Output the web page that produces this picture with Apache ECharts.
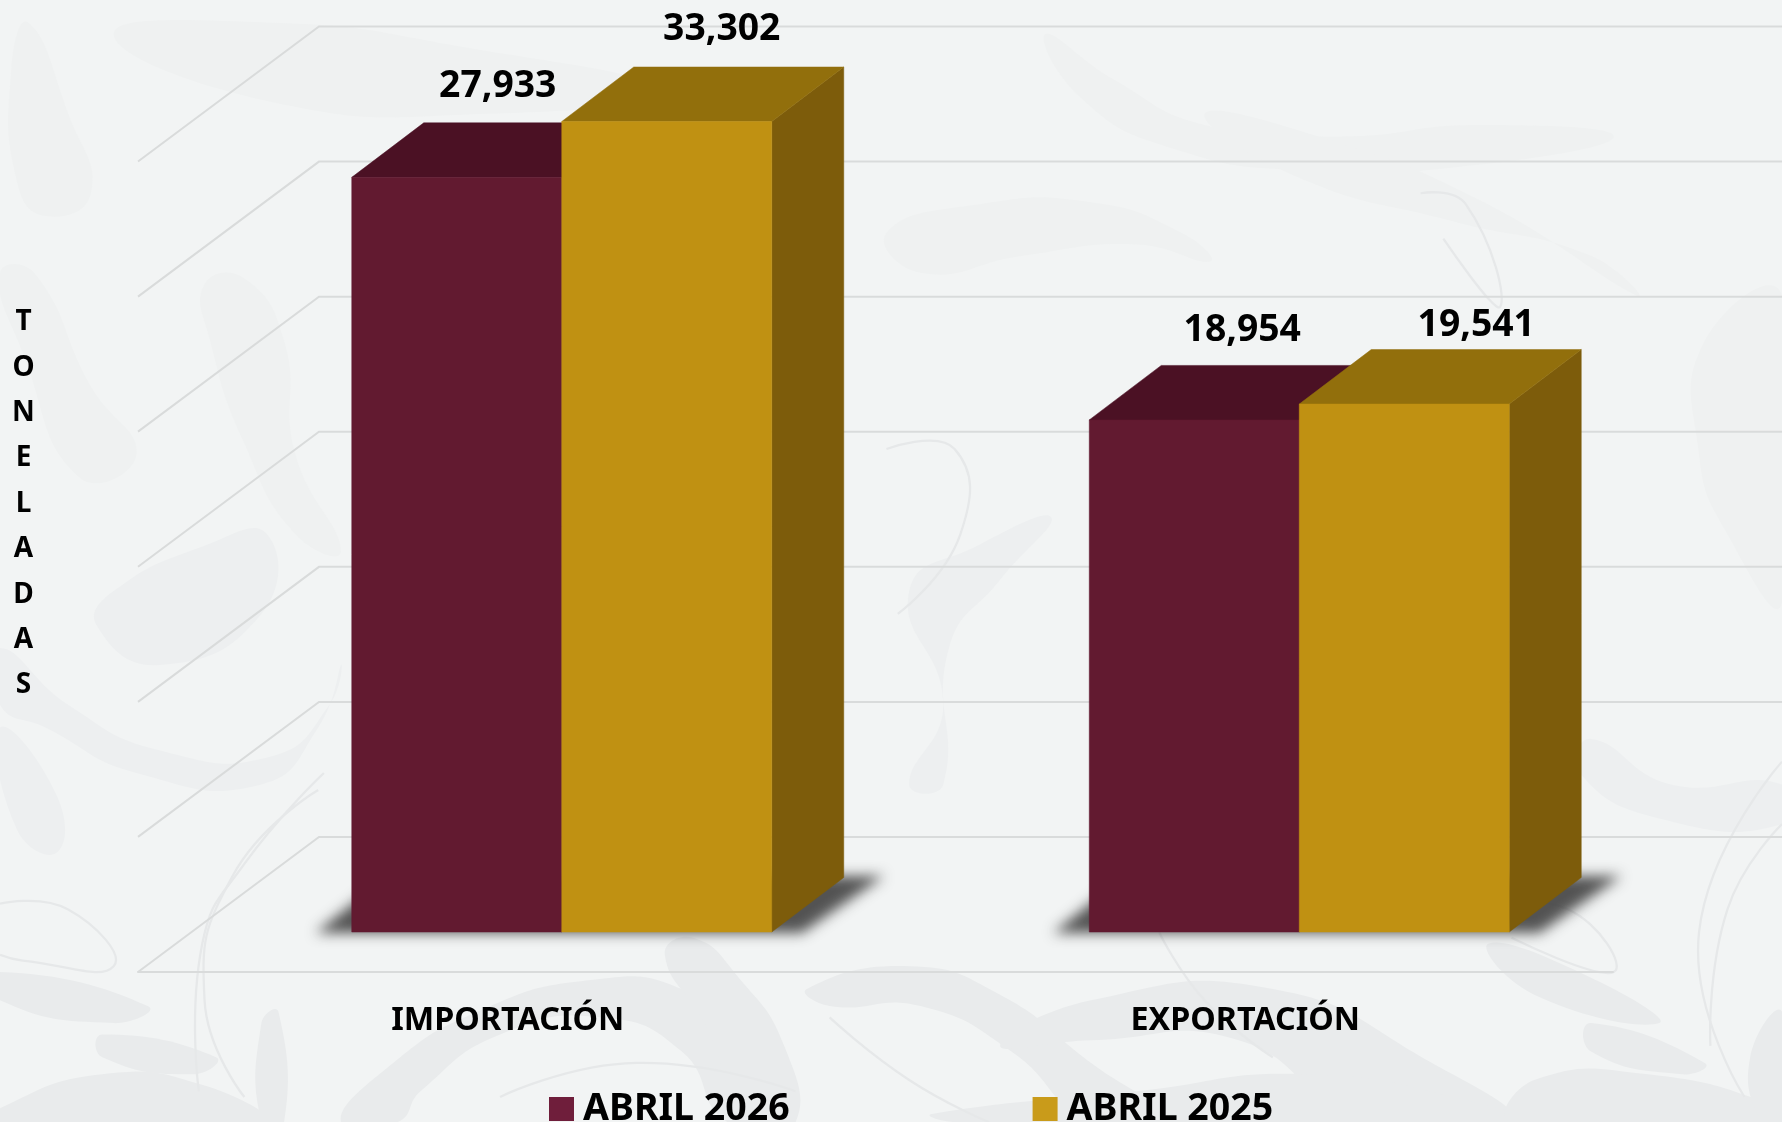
<!DOCTYPE html>
<html>
<head>
<meta charset="utf-8">
<style>html,body{margin:0;padding:0;background:#f2f4f4;overflow:hidden}#c{width:1782px;height:1122px}</style>
<script src="https://cdn.jsdelivr.net/npm/echarts@6/dist/echarts.min.js"></script>
</head>
<body>
<div id="c"></div>
<script>
const categories = ['IMPORTACIÓN', 'EXPORTACIÓN'];
const abril2026 = [27933, 18954];
const abril2025 = [33302, 19541];
const seriesNames = ['ABRIL 2026', 'ABRIL 2025'];
const wallTicks = [0, 5000, 10000, 15000, 20000, 25000, 30000];
const axisMax = 30000;

const FONT = '"Noto Sans", "Open Sans", sans-serif';
const palette = [
  {legend: '#6f1e3b', front: '#621a30', top: '#4b1124', side: '#4b1124'},
  {legend: '#c99b1a', front: '#c09112', top: '#926f0c', side: '#7d5c0b'}
];
const WALL = [181, -135];
const BAR_OFF = [55, -40];
const BAR_DEPTH = [72, -54.5];
const BAR_W = 210;
const LABEL_NUDGE = [[[41, -36.7], [48, -34.9]], [[55, -37.7], [72, -24]]];

function fmt(v) { return String(v).replace(/\B(?=(\d{3})+$)/g, ','); }

function barItem(k) {
  return function (params, api) {
    const i = api.value(0), v = api.value(1);
    const cx = api.coord([i, 0])[0];
    const y0 = api.coord([i, 0])[1] + BAR_OFF[1];
    const y1 = api.coord([i, Math.min(v, axisMax)])[1] + BAR_OFF[1];
    const x0 = cx + BAR_OFF[0] - BAR_W + k * BAR_W, x1 = x0 + BAR_W;
    const dx = BAR_DEPTH[0], dy = BAR_DEPTH[1], c = palette[k];
    const n = LABEL_NUDGE[k][i];
    const poly = (pts, col) => ({type: 'polygon', shape: {points: pts}, style: {fill: col, stroke: col, lineWidth: 0.5}});
    return {type: 'group', children: [
      poly([[x1, y1], [x1 + dx, y1 + dy], [x1 + dx, y0 + dy], [x1, y0]], c.side),
      poly([[x0, y1], [x0 + dx, y1 + dy], [x1 + dx, y1 + dy], [x1, y1]], c.top),
      poly([[x0, y1], [x1, y1], [x1, y0], [x0, y0]], c.front),
      {type: 'text', style: {text: fmt(v), x: (x0 + x1) / 2 + n[0], y: y1 + dy + n[1], align: 'center', verticalAlign: 'middle',
        fontFamily: FONT, fontWeight: 'bold', fontSize: 37.3, fill: '#000'}}
    ]};
  };
}

function shadowItem(params, api) {
  const i = api.value(0);
  const cx = api.coord([i, 0])[0];
  const yb = api.coord([i, 0])[1] + BAR_OFF[1];
  const xl = cx + BAR_OFF[0] - BAR_W, xr = cx + BAR_OFF[0] + BAR_W;
  const far = 3000;
  return {type: 'polygon',
    shape: {points: [[xl - 36, yb + 1], [xl + 36, yb - 56], [xr + 112, yb - 56], [xr + 30, yb + 1]].map(p => [p[0] - far, p[1]])},
    style: {fill: '#000', shadowBlur: 13, shadowOffsetX: far, shadowColor: 'rgba(65,65,65,0.9)'}};
}

function wallItem(params, api) {
  const t = api.value(0);
  const y = api.coord([0, t])[1], xl = params.coordSys.x, xr = xl + params.coordSys.width;
  return {type: 'polyline',
    shape: {points: [[xl, y], [xl + WALL[0], y + WALL[1]], [xr + WALL[0], y + WALL[1]]]},
    style: {stroke: '#d9dbdb', lineWidth: 2, fill: 'none'}};
}

// decorative background flourish (page 1568-space)
const blobs = [
  [[300,987],[340,940],[420,890],[520,862],[600,870],[660,920],[700,987],[640,987],[600,925],[530,895],[440,910],[370,960],[350,987]],
  [[585,840],[620,900],[660,987],[700,987],[690,920],[650,860],[610,825]],
  [[710,870],[800,850],[880,875],[960,935],[1030,987],[960,987],[890,925],[810,885],[730,885]],
  [[0,620],[40,640],[120,680],[230,690],[280,640],[300,585],[290,620],[240,665],[140,660],[60,620],[0,570]],
  [[180,250],[215,245],[250,300],[260,400],[300,485],[260,470],[215,390],[185,300]],
  [[780,205],[860,180],[960,178],[1040,205],[1065,230],[1000,215],[900,225],[810,240]],
  [[920,30],[980,70],[1060,110],[1180,120],[1300,110],[1420,120],[1300,145],[1150,150],[1030,130],[950,85]],
  [[1060,100],[1160,120],[1300,175],[1440,260],[1400,225],[1280,195],[1140,155]],
  [[830,620],[800,520],[860,480],[925,455],[880,510],[835,570],[830,690],[800,690]],
  [[1400,650],[1470,690],[1568,690],[1568,725],[1460,720],[1390,680]],
  [[1500,300],[1568,260],[1568,530],[1520,470],[1495,400]],
  [[0,240],[20,310],[70,420],[120,400],[80,340],[30,240]],
  [[100,520],[180,480],[235,470],[230,540],[140,585],[85,550]],
  [[10,60],[25,20],[60,100],[80,170],[40,190],[15,160]],
  [[100,30],[240,90],[430,100],[580,80],[400,40],[240,20]],
  [[880,920],[960,880],[1120,870],[1260,935],[1330,987],[1200,987],[1090,915],[960,915]],
  [[0,640],[50,700],[50,750],[15,730]],
  [[130,885],[0,855],[0,880],[100,900]],
  [[90,910],[190,930],[170,945],[90,930]],
  [[1310,830],[1400,860],[1460,900],[1350,875]],
  [[1400,900],[1500,935],[1480,945],[1400,925]],
  [[820,980],[1000,960],[1150,945],[1300,970],[1340,987],[840,987]],
  [[1350,950],[1450,945],[1568,975],[1568,987],[1330,987]],
  [[0,975],[90,945],[180,955],[230,987],[0,987]],
  [[230,900],[245,890],[250,987],[230,987]],
  [[1540,930],[1568,890],[1568,987],[1550,987]]
];
const swirls = [
  [[175,960],[178,830],[215,760],[285,680]],
  [[215,965],[180,880],[205,770],[280,695]],
  [[0,795],[60,800],[100,850],[20,845],[0,840]],
  [[730,895],[800,950],[870,987]],
  [[1505,920],[1520,800],[1568,725]],
  [[1535,965],[1495,820],[1568,670]],
  [[1300,800],[1380,800],[1420,855],[1330,825]],
  [[780,395],[840,395],[845,470],[790,540]],
  [[1250,170],[1290,180],[1320,270],[1270,210]],
  [[1020,820],[1060,880],[1120,930]],
  [[440,965],[560,935],[700,960]]
];
function blobFill(p) {
  const my = p.reduce((s, q) => s + q[1], 0) / p.length;
  return my < 450 ? '#eff1f1' : my < 760 ? '#edeff0' : '#e9ebec';
}
const bgGraphic = {type: 'group', scaleX: 1782 / 1568, scaleY: 1122 / 987, z: -10, silent: true, children:
  blobs.map(p => ({type: 'polygon', shape: {points: p, smooth: 0.5}, z: -10, style: {fill: blobFill(p)}}))
  .concat(swirls.map(p => ({type: 'polyline', shape: {points: p, smooth: 0.5}, z: -9,
      style: {stroke: '#e6e8e9', lineWidth: 2, fill: 'none'}})))
};

const catIdx = categories.map((_, i) => i);
const chart = echarts.init(document.getElementById('c'), null, {renderer: 'canvas'});
chart.setOption({
  animation: false,
  backgroundColor: '#f2f4f4',
  graphic: [bgGraphic],
  title: {text: 'T\nO\nN\nE\nL\nA\nD\nA\nS', left: 18.5, top: 294.5, textAlign: 'center',
    textStyle: {fontFamily: FONT, fontWeight: 'bold', fontSize: 28, lineHeight: 45.4, color: '#000'}},
  legend: {data: seriesNames, left: 549, top: 1090, padding: 0, itemWidth: 25, itemHeight: 24, itemGap: 243, icon: 'rect',
    textStyle: {fontFamily: FONT, fontWeight: 'bold', fontSize: 37.5, color: '#000', lineHeight: 24, padding: [0, 0, 0, 4]}},
  grid: {left: 138, top: 161.5, width: 1475, height: 810.5, containLabel: false},
  xAxis: {type: 'category', data: categories,
    axisLine: {show: true, lineStyle: {color: '#d9dbdb', width: 2}}, axisTick: {show: false}, splitLine: {show: false},
    axisLabel: {margin: 32.5, fontFamily: FONT, fontWeight: 'bold', fontSize: 32.3, color: '#000', padding: [0, 0, 0, 2]}},
  yAxis: {type: 'value', min: 0, max: axisMax, interval: 5000, axisLine: {show: false}, axisTick: {show: false},
    splitLine: {show: false}, axisLabel: {show: false}},
  series: [
    {type: 'custom', name: 'wall', z: 1, silent: true, data: wallTicks.map(t => [t]), encode: {y: 0}, renderItem: wallItem},
    {type: 'custom', name: 'shadow', z: 2, silent: true, data: catIdx.map(i => [i, 0]), encode: {x: 0, y: 1}, renderItem: shadowItem},
    {type: 'custom', name: seriesNames[0], z: 3, itemStyle: {color: palette[0].legend},
      data: abril2026.map((v, i) => [i, v]), encode: {x: 0, y: 1}, renderItem: barItem(0)},
    {type: 'custom', name: seriesNames[1], z: 4, itemStyle: {color: palette[1].legend},
      data: abril2025.map((v, i) => [i, v]), encode: {x: 0, y: 1}, renderItem: barItem(1)}
  ]
});
</script>
</body>
</html>
